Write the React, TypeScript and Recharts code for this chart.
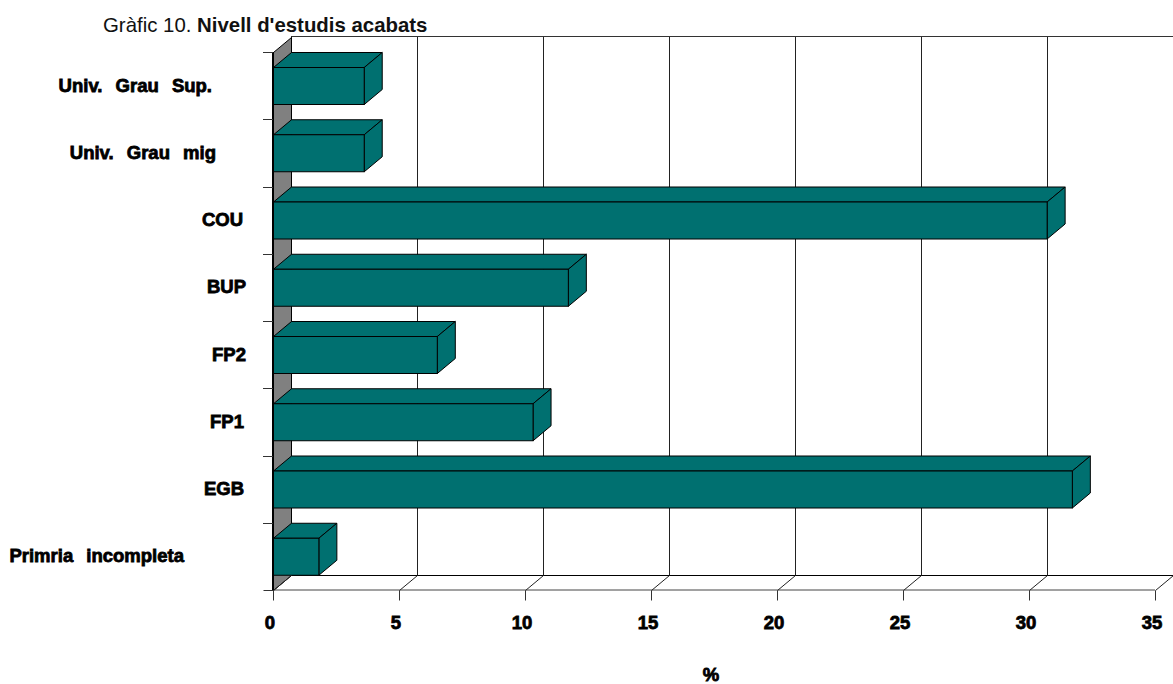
import { Bar, BarChart, CartesianGrid, ReferenceArea, XAxis, YAxis } from "recharts"

const categories = [
  "Univ. Grau Sup.",
  "Univ. Grau mig",
  "COU",
  "BUP",
  "FP2",
  "FP1",
  "EGB",
  "Primria incompleta",
]
const values = [3.6, 3.6, 30.7, 11.7, 6.5, 10.3, 31.7, 1.8]
const xTicks = [0, 5, 10, 15, 20, 25, 30, 35]

const chartData = categories.map((name, i) => ({ name, value: values[i] }))

// depth of the fake 3D box
const DX = 18
const DY = 15
const BAND = 67.25
const TEAL = "#007070"

const labelRight: Record<string, number> = {
  "Univ. Grau Sup.": 212,
  "Univ. Grau mig": 216,
  COU: 243,
  BUP: 246,
  FP2: 246,
  FP1: 244,
  EGB: 244,
  "Primria incompleta": 184,
}

const labelStyle = {
  fontFamily: "'Liberation Sans', Arial, sans-serif",
  fontWeight: 700,
  fontSize: 18.5,
  fill: "#000",
  stroke: "#000",
  strokeWidth: 0.8,
}

function Box3D(props: any) {
  const { width, height } = props
  const x = props.x + 0.5
  const y = props.y + 0.5
  const r = x + width
  return (
    <g stroke="#000" strokeWidth={1} fill={TEAL}>
      <polygon points={`${x},${y} ${x + DX},${y - DY} ${r + DX},${y - DY} ${r},${y}`} />
      <polygon points={`${r},${y} ${r + DX},${y - DY} ${r + DX},${y + height - DY} ${r},${y + height}`} />
      <rect x={x} y={y} width={width} height={height} />
    </g>
  )
}

// side wall + back floor edge + top edge, sized from the plot area
function Walls(props: any) {
  const { width, height } = props
  const x = props.x + 0.5
  const y = props.y + 0.5
  const b = y + height
  return (
    <g>
      <polygon points={`${x},${b} ${x + DX},${b - DY} ${x + DX},${y - DY} ${x},${y}`} fill="#808080" stroke="#000" />
      <line x1={x + DX} y1={y - DY - 1} x2={x + width + DX} y2={y - DY - 1} stroke="#333" />
      <line x1={x + DX} y1={b - DY} x2={x + width + DX} y2={b - DY} stroke="#000" />
    </g>
  )
}

function BackGridLine(props: any) {
  const { x1, y1, y2 } = props
  const x = Math.round(x1) + 0.5 + DX
  return <line x1={x} x2={x} y1={y1 - DY - 1} y2={y2 - DY} stroke="#222" strokeWidth={1} />
}

function CategoryTick(props: any) {
  const { y, payload } = props
  const axisX = props.x + 8
  const lineY = Math.round(y - BAND / 2) + 0.5
  return (
    <g>
      <line x1={axisX - 10} x2={axisX} y1={lineY} y2={lineY} stroke="#333" />
      <text x={labelRight[payload.value]} y={y + 6} textAnchor="end" wordSpacing={8} style={labelStyle}>
        {payload.value}
      </text>
    </g>
  )
}

function ValueTick(props: any) {
  const { x, y, payload } = props
  const px = Math.round(x) + 0.5
  const top = y - 8 + 0.5
  return (
    <g>
      <line x1={px} x2={px + DX} y1={top} y2={top - DY} stroke="#222" />
      <line x1={px} x2={px} y1={top} y2={top + 10} stroke="#333" />
      {payload.value === 0 && <line x1={px - 10} x2={px} y1={top} y2={top} stroke="#333" />}
      <text x={x - 3} y={top + 38} textAnchor="middle" style={labelStyle}>
        {payload.value}
      </text>
    </g>
  )
}

export default function App() {
  return (
    <div style={{ position: "absolute", left: 0, top: 0, width: 1173, height: 684 }}>
      <div
        style={{
          position: "absolute",
          left: 103,
          top: 14,
          fontFamily: "'Liberation Sans', Arial, sans-serif",
          fontSize: 20.4,
          lineHeight: "22px",
          whiteSpace: "nowrap",
          color: "#111",
        }}
      >
        Gràfic 10. <b>Nivell d'estudis acabats</b>
      </div>
      <BarChart
        layout="vertical"
        width={1173}
        height={684}
        data={chartData}
        margin={{ top: 52, right: 18, bottom: 0, left: 0 }}
        style={{ overflow: "visible" }}
      >
        <ReferenceArea x1={0} x2={35} shape={Walls} ifOverflow="visible" />
        <CartesianGrid horizontal={false} vertical={BackGridLine} />
        <XAxis
          type="number"
          domain={[0, 35]}
          ticks={xTicks}
          interval={0}
          height={94}
          tickLine={false}
          tick={ValueTick}
          axisLine={{ stroke: "#444" }}
          label={{ value: "%", position: "insideBottom", offset: 0, dx: -3, dy: -3, style: labelStyle }}
        />
        <YAxis
          type="category"
          dataKey="name"
          width={273}
          interval={0}
          tickLine={false}
          tick={CategoryTick}
          axisLine={{ stroke: "#000", strokeWidth: 2 }}
        />
        <Bar dataKey="value" barSize={37} shape={Box3D} isAnimationActive={false} />
      </BarChart>
    </div>
  )
}
